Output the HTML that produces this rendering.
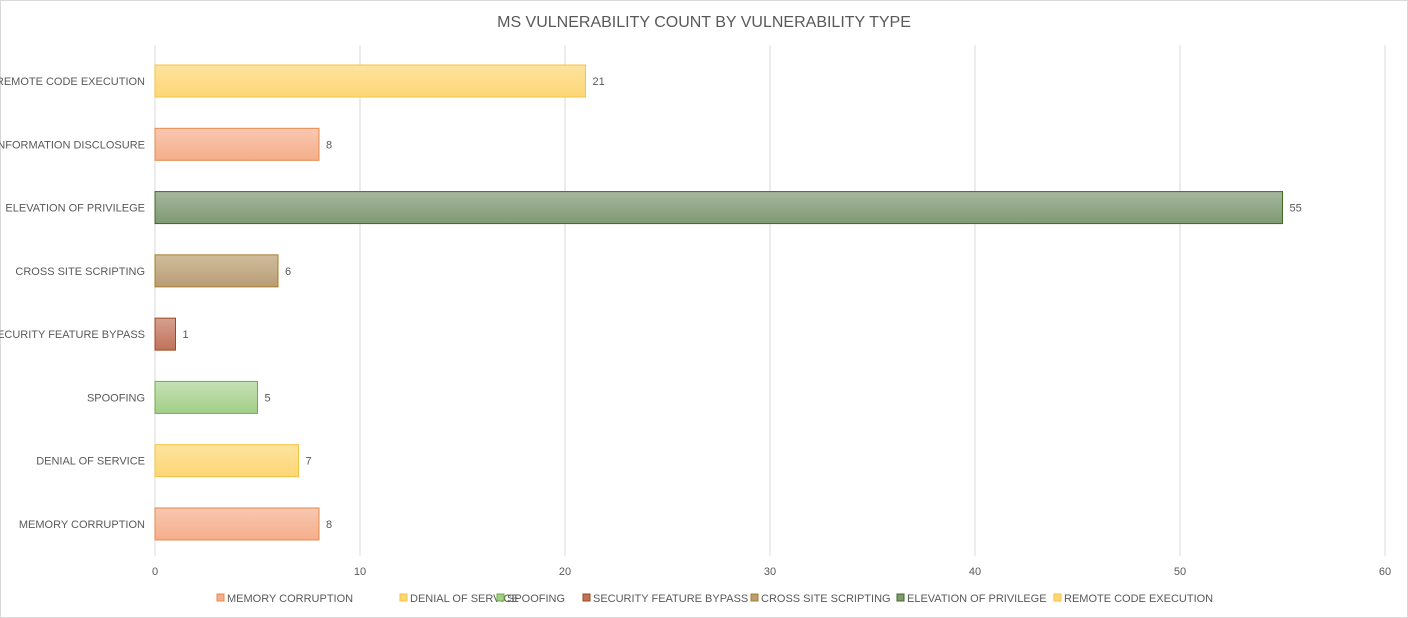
<!DOCTYPE html>
<html><head><meta charset="utf-8"><style>
body{margin:0;background:#fff;}
svg{display:block;font-family:"Liberation Sans",sans-serif;}
</style></head><body>
<svg id="chart" width="1408" height="618">
<defs></defs>
<rect x="0.5" y="0.5" width="1407" height="617" fill="#fff" stroke="#d9d9d9"/>
<text x="704" y="27" text-anchor="middle" font-size="16" fill="#595959">MS VULNERABILITY COUNT BY VULNERABILITY TYPE</text>
<g id="grid"></g><g id="bars"></g><g id="labels"></g><g id="legend"></g>
</svg>
<script>
const categories=["MEMORY CORRUPTION","DENIAL OF SERVICE","SPOOFING","SECURITY FEATURE BYPASS","CROSS SITE SCRIPTING","ELEVATION OF PRIVILEGE","INFORMATION DISCLOSURE","REMOTE CODE EXECUTION"];
const values=[8,7,5,1,6,55,8,21];
const xTicks=[0,10,20,30,40,50,60];
const legendItems=["MEMORY CORRUPTION","DENIAL OF SERVICE","SPOOFING","SECURITY FEATURE BYPASS","CROSS SITE SCRIPTING","ELEVATION OF PRIVILEGE","REMOTE CODE EXECUTION"];
const styles={
"MEMORY CORRUPTION":["#f8c8b0","#f5ae8b","#e8894c"],
"INFORMATION DISCLOSURE":["#f8c8b0","#f5ae8b","#e8894c"],
"DENIAL OF SERVICE":["#fde39e","#fdd775","#f5c242"],
"REMOTE CODE EXECUTION":["#fde39e","#fdd775","#f5c242"],
"SPOOFING":["#c6e1b4","#a2ce88","#70ad47"],
"SECURITY FEATURE BYPASS":["#d7a090","#c0725a","#9c4a23"],
"CROSS SITE SCRIPTING":["#d0bc9c","#b89d76","#a87d2a"],
"ELEVATION OF PRIVILEGE":["#a6b69e","#7f9a72","#3f6a22"]
};
const NS="http://www.w3.org/2000/svg";
const X0=155,X1=1385,Ytop=49.4,Ybot=555.6;
const xs=v=>X0+(v-0)/(60-0)*(X1-X0);
const band=(Ybot-Ytop)/categories.length;
const yc=i=>Ybot-band*(i+0.5);
function mk(tag,attrs,parent){const e=document.createElementNS(NS,tag);for(const k in attrs)e.setAttribute(k,attrs[k]);parent.appendChild(e);return e;}
const defs=document.querySelector('defs');
const grid=document.getElementById('grid'),bars=document.getElementById('bars'),labels=document.getElementById('labels'),legend=document.getElementById('legend');
xTicks.forEach(t=>{
 const l=mk('line',{x1:xs(t),x2:xs(t),y1:Ytop-4,y2:Ybot,stroke:'#d9d9d9','stroke-width':1},grid);
 
 
 const tx=mk('text',{x:xs(t),y:575,'text-anchor':'middle','font-size':11,fill:'#595959'},labels);
 tx.textContent=t;
 
 
});
categories.forEach((c,i)=>{
 const s=styles[c];const gid='g'+i;
 const g=mk('linearGradient',{id:gid,x1:0,y1:0,x2:0,y2:1},defs);
 mk('stop',{offset:0,'stop-color':s[0]},g);mk('stop',{offset:1,'stop-color':s[1]},g);
 const h=32,y=yc(i)-h/2;
 const r=mk('rect',{x:xs(0),y:y,width:xs(values[i])-xs(0),height:h,fill:'url(#'+gid+')',stroke:s[2],'stroke-width':1},bars);
 
 
 const v=mk('text',{x:xs(values[i])+7,y:yc(i)+4,'font-size':11,fill:'#595959'},labels);
 v.textContent=values[i];
 
 
 const cl=mk('text',{x:145,y:yc(i)+4,'text-anchor':'end','font-size':11,fill:'#595959'},labels);
 cl.textContent=c;
 
 
});
const lx=[217,400,497,583,751,897,1054];
legendItems.forEach((c,i)=>{
 const s=styles[c];
 const r=mk('rect',{x:lx[i],y:594,width:7,height:7,fill:s[1],stroke:s[2],'stroke-width':1},legend);
 
 
 const t=mk('text',{x:lx[i]+10,y:602,'font-size':11,fill:'#595959'},legend);
 t.textContent=c;
 
 
});
</script>
</body></html>
